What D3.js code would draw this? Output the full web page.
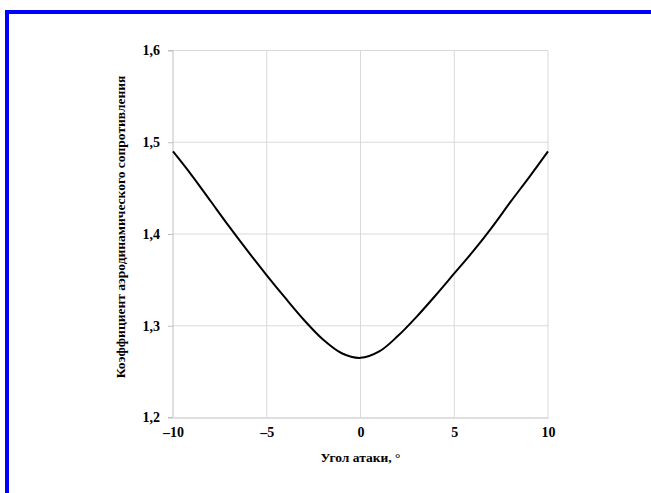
<!DOCTYPE html>
<html>
<head>
<meta charset="utf-8">
<script src="https://cdn.jsdelivr.net/npm/d3@7"></script>
<style>
  body { margin: 0; background: #fff; }
  text { font-family: "Liberation Serif", "Times New Roman", serif; font-weight: bold; }
</style>
</head>
<body>
<div id="chart"></div>
<script>
const width = 651;
const height = 493;

// angle of attack, degrees
const angles = [-10, -9, -8, -7, -6, -5, -4, -3, -2, -1, 0, 1, 2, 3, 4, 5, 6, 7, 8, 9, 10];
// drag coefficient
const drag = [1.490, 1.464, 1.436, 1.408, 1.381, 1.355, 1.330, 1.306, 1.285, 1.270, 1.265,
  1.272, 1.289, 1.310, 1.333, 1.357, 1.381, 1.407, 1.435, 1.462, 1.490];
const xTicks = [-10, -5, 0, 5, 10];
const yTicks = [1.2, 1.3, 1.4, 1.5, 1.6];

const plotLeft = 173;
const plotRight = 548;
const plotTop = 50.5;
const plotBottom = 417.5;

const svg = d3
  .select("#chart")
  .append("svg")
  .attr("width", width)
  .attr("height", height);

// blue frame (top and left edges visible)
svg.append("rect").attr("x", 5).attr("y", 10).attr("width", width - 5).attr("height", 4).attr("fill", "#0000ff");
svg.append("rect").attr("x", 5).attr("y", 10).attr("width", 4).attr("height", height - 10).attr("fill", "#0000ff");

const xScale = d3.scaleLinear().domain([-10, 10]).range([plotLeft, plotRight]);
const yScale = d3.scaleLinear().domain([1.2, 1.6]).range([plotBottom, plotTop]);

const fmtY = d => d3.format(".1f")(d).replace(".", ",");
const fmtX = d => (d < 0 ? "\u2013" + Math.abs(d) : String(d));

// gridlines
svg
  .append("g")
  .selectAll("line")
  .data(yTicks.slice(1))
  .enter()
  .append("line")
  .attr("x1", plotLeft)
  .attr("x2", plotRight)
  .attr("y1", d => yScale(d))
  .attr("y2", d => yScale(d))
  .attr("stroke", "#d9d9d9")
  .attr("stroke-width", 1);

svg
  .append("g")
  .selectAll("line")
  .data(xTicks.slice(1))
  .enter()
  .append("line")
  .attr("x1", d => xScale(d))
  .attr("x2", d => xScale(d))
  .attr("y1", plotTop)
  .attr("y2", plotBottom)
  .attr("stroke", "#d9d9d9")
  .attr("stroke-width", 1);

// y axis
const yAxis = d3.axisLeft(yScale).tickValues(yTicks).tickFormat(fmtY).tickSize(5).tickPadding(8);
const gy = svg.append("g").attr("transform", `translate(${plotLeft},0)`).call(yAxis);
gy.select(".domain").attr("stroke", "#bfbfbf").attr("d", `M-5,${plotTop}H0V${plotBottom}H-5`);
gy.selectAll(".tick line").attr("stroke", "#bfbfbf");
gy.selectAll(".tick text").attr("fill", "#000").style("font-size", "14px");

// x axis
const xAxis = d3.axisBottom(xScale).tickValues(xTicks).tickFormat(fmtX).tickSize(0).tickPadding(10);
const gx = svg.append("g").attr("transform", `translate(0,${plotBottom})`).call(xAxis);
gx.select(".domain").attr("stroke", "#bfbfbf");
gx.selectAll(".tick text").attr("fill", "#000").style("font-size", "14px");

// curve
const line = d3
  .line()
  .x((d, i) => xScale(angles[i]))
  .y(d => yScale(d))
  .curve(d3.curveCatmullRom);

svg
  .append("path")
  .datum(drag)
  .attr("fill", "none")
  .attr("stroke", "#000")
  .attr("stroke-width", 2)
  .attr("d", line);

// axis titles
svg
  .append("text")
  .attr("x", (plotLeft + plotRight) / 2)
  .attr("y", 462)
  .attr("text-anchor", "middle")
  .style("font-size", "13.5px")
  .text("Угол атаки, °");

svg
  .append("text")
  .attr("transform", `translate(125,227) rotate(-90)`)
  .attr("text-anchor", "middle")
  .style("font-size", "13.5px")
  .text("Коэффициент аэродинамического сопротивления");
</script>
</body>
</html>
